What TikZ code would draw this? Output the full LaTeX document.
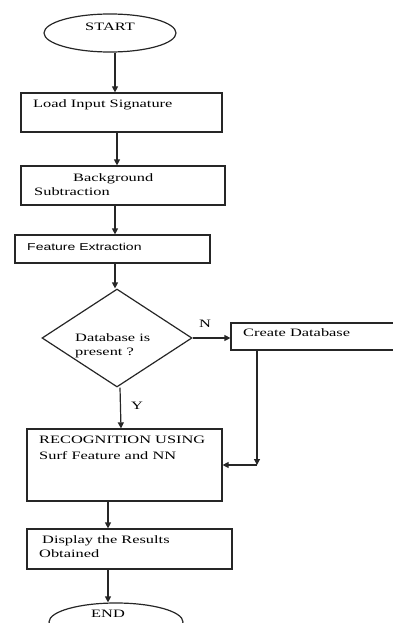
\documentclass[tikz,border=0pt]{standalone}
\usepackage{fontspec}
\setmainfont{Liberation Serif}[FakeStretch=1.45]
\newfontfamily\boxsans{Liberation Sans}[FakeStretch=1.4]
\usetikzlibrary{shapes.geometric,arrows.meta}
\tikzset{
  line/.style={line width=1.2pt, draw=black!85},
  arr/.style={line, -{Triangle[length=6pt,width=6pt]}},
  procbox/.style={line, rectangle, inner sep=0pt},
  term/.style={line, ellipse, inner sep=0pt},
  decide/.style={line, diamond, inner sep=0pt},
  txt/.style={anchor=base west, inner sep=0pt, font=\fontsize{11.3}{14}\selectfont},
  ctxt/.style={anchor=base, inner sep=0pt, font=\fontsize{11.3}{14}\selectfont},
  stxt/.style={anchor=base west, inner sep=0pt, font=\boxsans\fontsize{10}{12}\selectfont},
}
\begin{document}
\begin{tikzpicture}[x=1pt,y=-1pt]
\useasboundingbox (0,0) rectangle (392,623);
% shapes
\node[term, minimum width=132pt, minimum height=38pt] (start) at (110,33) {};
\node[procbox, minimum width=201pt, minimum height=39pt] (load) at (121.5,112.5) {};
\node[procbox, minimum width=204pt, minimum height=39pt] (bg) at (123,185.5) {};
\node[procbox, minimum width=195pt, minimum height=28pt] (feat) at (112.5,249) {};
\node[decide, minimum width=150pt, minimum height=98pt] (db) at (117,338) {};
\node[procbox, minimum width=190pt, minimum height=27pt] (create) at (326,336.5) {};
\node[procbox, minimum width=195pt, minimum height=72pt] (rec) at (124.5,465) {};
\node[procbox, minimum width=205pt, minimum height=40pt] (disp) at (129.5,549) {};
\node[term, minimum width=134pt, minimum height=38pt] (end) at (116,622) {};
% texts
\node[ctxt] (tstart) at (110,30.5) {START};
\node[txt] (tload) at (33,107) {Load Input Signature};
\node[txt] (tbg1) at (73,181) {Background};
\node[txt] (tbg2) at (34,195) {Subtraction};
\node[stxt] (tfeat) at (27,250) {Feature Extraction};
\node[txt] (tdb1) at (75,341) {Database is};
\node[txt] (tdb2) at (75,355.5) {present ?};
\node[txt] (tcreate) at (243,336) {Create Database};
\node[txt] (trec1) at (39,443.5) {RECOGNITION USING};
\node[txt] (trec2) at (39,459) {Surf Feature and NN};
\node[txt] (tdisp1) at (42,543) {Display the Results};
\node[txt] (tdisp2) at (39,557) {Obtained};
\node[ctxt] (tend) at (108,617) {END};
\node[ctxt] (tn) at (205,327) {N};
\node[ctxt] (ty) at (137,409) {Y};
% connectors
\draw[arr] ([xshift=5pt]start.south) -- ([xshift=-6.5pt]load.north);
\draw[arr] ([xshift=-4.5pt]load.south) -- ([xshift=-6pt]bg.north);
\draw[arr] ([xshift=-8pt]bg.south) -- ([xshift=2.5pt]feat.north);
\draw[arr] ([xshift=2.5pt]feat.south) -- ([xshift=-2pt]db.north);
\draw[arr] (db.east) -- (db.east -| create.west);
\draw[arr] ([xshift=3pt]db.south) -- ([xshift=-3.5pt]rec.north);
\coordinate (c1) at (257,465);
\draw[arr] (create.south -| c1) -- (c1);
\draw[arr] (c1) -- (rec.east);
\draw[arr] ([xshift=-16.5pt]rec.south) -- ([xshift=-21.5pt]disp.north);
\draw[arr] ([xshift=-21.5pt]disp.south) -- ([xshift=-8pt]end.north);
\end{tikzpicture}
\end{document}
